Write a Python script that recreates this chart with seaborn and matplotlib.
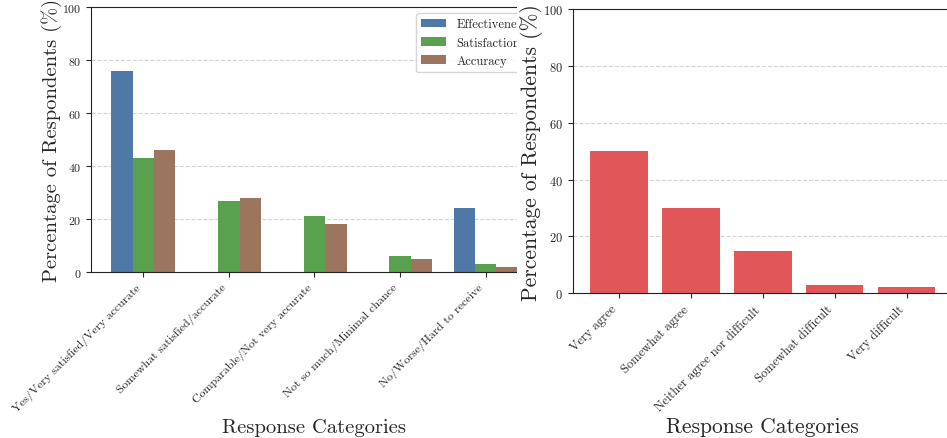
import pandas as pd
import numpy as np
import seaborn as sns
import matplotlib.pyplot as plt
from matplotlib.patches import Rectangle

# dados
categorias_esq = ['Yes/Very satisfied/Very accurate', 'Somewhat satisfied/accurate',
                  'Comparable/Not very accurate', 'Not so much/Minimal chance',
                  'No/Worse/Hard to receive']
effectiveness = [76, 0, 0, 0, 24]
satisfaction = [43, 27, 21, 6, 3]
accuracy = [46, 28, 18, 5, 2]
series_nomes = ['Effectiveness', 'Satisfaction', 'Accuracy']

categorias_dir = ['Very agree', 'Somewhat agree', 'Neither agree nor difficult',
                  'Somewhat difficult', 'Very difficult']
concordancia = [50, 30, 15, 3, 2]

cores = ['#4e79a7', '#59a14f', '#9c755f']
cor_dir = '#e15759'

df = pd.DataFrame({
    'Categoria': categorias_esq * 3,
    'Percentual': effectiveness + satisfaction + accuracy,
    'Serie': [s for s in series_nomes for _ in categorias_esq],
})

sns.set_style('ticks')
plt.rcParams['font.family'] = 'serif'
plt.rcParams['font.serif'] = ['cmr10', 'DejaVu Serif']
plt.rcParams['mathtext.fontset'] = 'cm'
plt.rcParams['axes.formatter.use_mathtext'] = True
plt.rcParams['axes.edgecolor'] = '#222222'

fig = plt.figure(figsize=(9.47, 4.39), dpi=100)
ax1 = fig.add_axes([0.0961, 0.378, 0.472, 0.6036])
ax2 = fig.add_axes([0.605, 0.330, 0.401, 0.647])

# Grafico da esquerda (agrupado)
sns.barplot(data=df, x='Categoria', y='Percentual', hue='Serie', palette=cores,
            saturation=1, width=0.75, linewidth=0, ax=ax1)
ax1.set_xlim(-0.6125, 4.6125)
ax1.legend(loc='upper right', fontsize=9, frameon=True)

# Grafico da direita
sns.barplot(x=categorias_dir, y=concordancia, color=cor_dir, saturation=1,
            width=0.8, linewidth=0, ax=ax2)
ax2.set_xlim(-0.64, 4.64)

for ax, fs, ts in ((ax1, 14.8, 8.6), (ax2, 15.5, 9.0)):
    ax.set_ylim(0, 100)
    ax.set_yticks([0, 20, 40, 60, 80, 100])
    ax.yaxis.grid(True, linestyle='--', color='lightgray', linewidth=0.8)
    ax.set_axisbelow(True)
    ax.set_xlabel('Response Categories', fontsize=fs, labelpad=3)
    ax.set_ylabel('Percentage of Respondents (%)', fontsize=fs, labelpad=0)
    ax.tick_params(axis='both', labelsize=ts)
    for lbl in ax.get_xticklabels():
        lbl.set_rotation(45)
        lbl.set_ha('right')
    for s in ax.spines.values():
        s.set_visible(True)

# recorte da imagem da esquerda (como duas figuras lado a lado)
fig.add_artist(Rectangle((0.546, 0), 0.5, 1, transform=fig.transFigure,
                         facecolor='white', edgecolor='none', zorder=1))
ax2.set_zorder(2)

plt.savefig('out.png', dpi=100)
